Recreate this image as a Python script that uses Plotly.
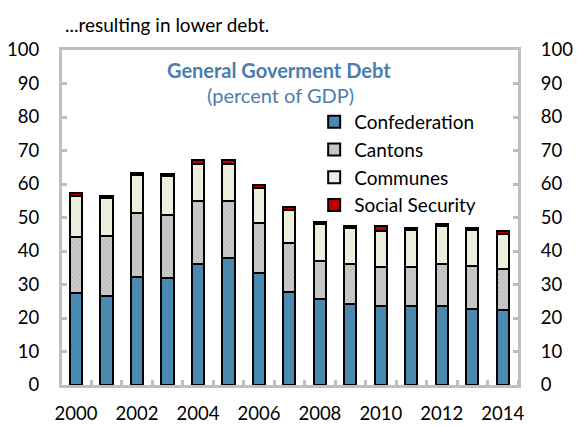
import plotly.graph_objects as go

years = list(range(2000, 2015))
confederation = [27.5, 26.6, 32.3, 31.8, 36.1, 37.8, 33.5, 27.9, 25.7, 24.2, 23.7, 23.7, 23.7, 22.6, 22.4]
cantons = [16.8, 17.9, 18.9, 18.9, 18.9, 17.2, 15.0, 14.4, 11.4, 11.9, 11.4, 11.6, 12.4, 12.9, 12.1]
communes = [12.2, 11.4, 11.6, 11.6, 11.1, 11.1, 10.4, 9.9, 10.9, 10.8, 10.9, 11.0, 11.3, 10.8, 10.7]
social_security = [0.9, 0.5, 0.6, 0.6, 1.1, 1.1, 0.8, 0.8, 0.7, 0.7, 1.5, 0.7, 0.8, 0.7, 0.8]
tick_years = list(range(2000, 2015, 2))

FONT = "Lato"
AX = "#BFBFBF"
BLUE_TXT = "#4A7EB0"
line = dict(color="black", width=2)

fig = go.Figure()
fig.add_bar(x=years, y=confederation, name="Confederation",
            marker=dict(color="#4A8AB0", line=line))
fig.add_bar(x=years, y=cantons, name="Cantons",
            marker=dict(color="#C4C4C4", line=line,
                        pattern=dict(shape="x", size=3, solidity=0.4,
                                     fgcolor="#A4A4A4", bgcolor="#CBCBCB")))
fig.add_bar(x=years, y=communes, name="Communes",
            marker=dict(color="#EBF1DE", line=line,
                        pattern=dict(shape=".", size=4, solidity=0.15,
                                     fgcolor="#D6E3C4", bgcolor="#EBF1DE")))
fig.add_bar(x=years, y=social_security, name="Social Security",
            marker=dict(color="#C00000", line=line))
# invisible trace to drive the right axis
fig.add_scatter(x=[years[0]], y=[0], yaxis="y2", showlegend=False,
                mode="markers", marker=dict(opacity=0), hoverinfo="skip")

ycommon = dict(range=[0, 100], tickmode="linear", tick0=0, dtick=10,
               ticks="inside", ticklen=5, tickwidth=3, tickcolor=AX,
               showline=True, linecolor=AX, linewidth=3,
               showgrid=False, zeroline=False, ticklabelstandoff=16,
               tickfont=dict(size=18.5), automargin=False)

fig.update_layout(
    width=582, height=427,
    margin=dict(l=62, r=64, t=50, b=42),
    barmode="stack", bargap=0.6,
    plot_bgcolor="white", paper_bgcolor="white",
    font=dict(family=FONT, size=19, color="black"),
    showlegend=True,
    legend=dict(x=0.553, y=0.842, xanchor="left", yanchor="top",
                traceorder="normal", bgcolor="rgba(0,0,0,0)",
                font=dict(size=19), itemwidth=30, tracegroupgap=0),
    xaxis=dict(range=[1999.54, 2014.5], tickmode="array", tickvals=tick_years,
               ticktext=[str(y) for y in tick_years], tickfont=dict(size=18.5),
               ticks="", showline=True, linecolor=AX, linewidth=3, mirror=True,
               showgrid=False, zeroline=False, ticklabelstandoff=10, automargin=False,
               minor=dict(ticks="inside", tick0=1999.5, dtick=1, ticklen=5,
                          tickwidth=3, tickcolor=AX, showgrid=False)),
    yaxis=ycommon,
    yaxis2=dict(**ycommon, overlaying="y", side="right"),
    annotations=[
        dict(text="...resulting in lower debt.", x=(63 - 62) / 456, y=(385 - 24) / 335,
             xref="paper", yref="paper", showarrow=False,
             xanchor="left", yanchor="middle", font=dict(size=19)),
        dict(text="<b>General Goverment Debt</b>", x=0.476, y=0.940,
             xref="paper", yref="paper", showarrow=False,
             xanchor="center", yanchor="middle",
             font=dict(size=20, color=BLUE_TXT)),
        dict(text="(percent of GDP)", x=0.48, y=0.866,
             xref="paper", yref="paper", showarrow=False,
             xanchor="center", yanchor="middle",
             font=dict(size=20, color=BLUE_TXT)),
    ],
)

fig.write_html("out.html", config={"displayModeBar": False},
               post_script="document.body.style.margin='0';document.body.style.overflow='hidden';")
